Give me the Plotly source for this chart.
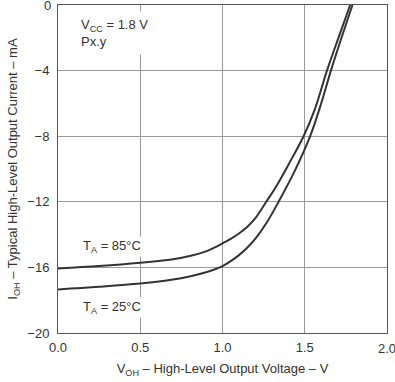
import plotly.graph_objects as go

# Data
v_85 = [0.0, 0.25, 0.5, 0.7, 0.8, 0.9, 0.95, 1.0, 1.05, 1.1, 1.15, 1.2, 1.266, 1.33, 1.4, 1.493, 1.56, 1.635, 1.705, 1.776]
i_85 = [-16.06, -15.92, -15.72, -15.5, -15.31, -15.02, -14.8, -14.53, -14.26, -13.93, -13.53, -13.0, -12.0, -11.0, -9.75, -8.0, -6.4, -4.0, -2.0, 0.0]

v_25 = [0.0, 0.25, 0.5, 0.7, 0.8, 0.9, 0.95, 1.0, 1.05, 1.1, 1.15, 1.2, 1.27, 1.341, 1.44, 1.533, 1.6, 1.659, 1.73, 1.79]
i_25 = [-17.34, -17.18, -16.98, -16.74, -16.55, -16.3, -16.13, -15.92, -15.62, -15.25, -14.8, -14.25, -13.25, -12.0, -10.1, -8.0, -6.0, -4.0, -1.8, 0.0]

x_ticks = [0.0, 0.5, 1.0, 1.5, 2.0]
x_ticktext = ["0.0", "0.5", "1.0", "1.5", ""]
x_edge_label = "2.0"
y_ticks = [0, -4, -8, -12, -16, -20]
y_ticktext = ["", "−4", "−8", "−12", "−16", "−20"]
y_edge_label = "0"

font_family = "Liberation Sans, Arial, sans-serif"
txt = "#333333"

fig = go.Figure()
fig.add_trace(go.Scatter(x=v_85, y=i_85, mode="lines",
                         line=dict(color="#333333", width=2, shape="spline", smoothing=1.0),
                         showlegend=False, hoverinfo="skip"))
fig.add_trace(go.Scatter(x=v_25, y=i_25, mode="lines",
                         line=dict(color="#333333", width=2, shape="spline", smoothing=1.0),
                         showlegend=False, hoverinfo="skip"))

fig.update_layout(
    width=395, height=382,
    margin=dict(l=58, r=8, t=5, b=49),
    paper_bgcolor="white", plot_bgcolor="white",
    font=dict(family=font_family, size=13, color=txt),
    xaxis=dict(range=[0, 2.0], tickvals=x_ticks, ticktext=x_ticktext,
               showgrid=True, gridcolor="#9a9a9a", gridwidth=1,
               showline=True, linecolor="#555555", linewidth=1, mirror=True,
               ticks="", zeroline=False, ticklabelstandoff=2,
               title=dict(text="V<sub>OH</sub> – High-Level Output Voltage – V",
                          font=dict(size=13, color=txt), standoff=10)),
    yaxis=dict(range=[-20, 0], tickvals=y_ticks, ticktext=y_ticktext,
               showgrid=True, gridcolor="#9a9a9a", gridwidth=1,
               showline=True, linecolor="#555555", linewidth=1, mirror=True,
               ticks="", zeroline=False, ticklabelstandoff=5,
               title=dict(text="I<sub>OH</sub> – Typical High-Level Output Current – mA",
                          font=dict(size=13, color=txt), standoff=6)),
)

# edge tick labels (Plotly drops labels that overflow the page edge)
fig.add_annotation(x=0, y=1, xref="paper", yref="paper", xanchor="right", yanchor="middle",
                   xshift=-5, text=y_edge_label, showarrow=False,
                   font=dict(size=13, color=txt))
fig.add_annotation(x=1, y=0, xref="paper", yref="paper", xanchor="center", yanchor="top",
                   yshift=-6, text=x_edge_label, showarrow=False,
                   font=dict(size=13, color=txt))

fig.add_annotation(x=0.124, y=-0.35, xref="x", yref="y", xanchor="left", yanchor="top",
                   text="V<sub>CC</sub> = 1.8 V<br>Px.y", align="left", showarrow=False,
                   bgcolor="white", width=72, height=38, borderpad=2,
                   font=dict(size=13, color=txt))
fig.add_annotation(x=0.14, y=-14.72, xref="x", yref="y", xanchor="left", yanchor="middle",
                   text="T<sub>A</sub> = 85°C", showarrow=False, bgcolor="white",
                   font=dict(size=13, color=txt))
fig.add_annotation(x=0.14, y=-18.45, xref="x", yref="y", xanchor="left", yanchor="middle",
                   text="T<sub>A</sub> = 25°C", showarrow=False, bgcolor="white",
                   font=dict(size=13, color=txt))

fig.write_html("out.html", config={"displayModeBar": False},
               post_script="document.body.style.margin='0';document.body.style.overflow='hidden';")
